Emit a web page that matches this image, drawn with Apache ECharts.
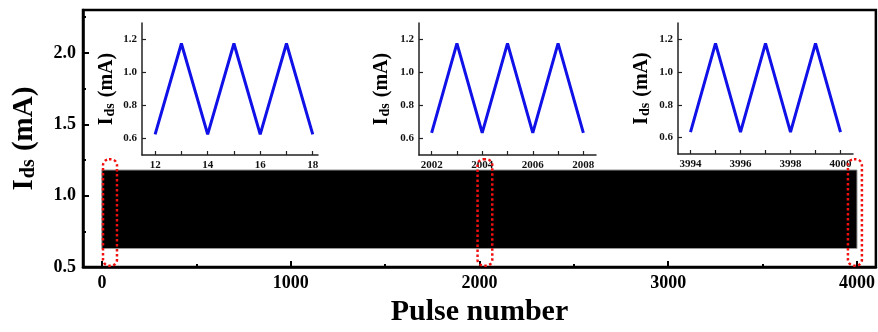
<!DOCTYPE html>
<html>
<head>
<meta charset="utf-8">
<script src="https://cdn.jsdelivr.net/npm/echarts@6/dist/echarts.min.js"></script>
<style>
  html, body { margin: 0; padding: 0; background: #fff; }
  #main { width: 878px; height: 332px; }
</style>
</head>
<body>
<div id="main"></div>
<script>
// main plot: the dense pulse train shows up as a solid band
var bandStart = [0];
var bandEnd = [4000];
var bandLow = [0.63];
var bandHigh = [1.18];

// red dotted boxes marking the zoomed regions
var boxStart = [6, 1990, 3952];
var boxEnd = [80, 2068, 4026];
var boxLow = [0.51, 0.51, 0.51];
var boxHigh = [1.255, 1.255, 1.255];

// insets
var inset1X = [12, 13, 14, 15, 16, 17, 18];
var inset1Y = [0.625, 1.176, 0.625, 1.176, 0.625, 1.176, 0.625];
var inset2X = [2002, 2003, 2004, 2005, 2006, 2007, 2008];
var inset2Y = [0.634, 1.176, 0.634, 1.176, 0.634, 1.176, 0.634];
var inset3X = [3994, 3995, 3996, 3997, 3998, 3999, 4000];
var inset3Y = [0.634, 1.176, 0.634, 1.176, 0.634, 1.176, 0.634];

var mainXLabels = [0, 1000, 2000, 3000, 4000];
var mainXMinor = [500, 1500, 2500, 3500];
var mainYLabels = [0.5, 1.0, 1.5, 2.0];
var mainYMinor = [0.75, 1.25, 1.75, 2.25];
var insetYLabels = [0.6, 0.8, 1.0, 1.2];

var serif = 'Liberation Serif';

function pairs(xs, ys) {
    var out = [];
    for (var i = 0; i < xs.length; i++) out.push([xs[i], ys[i]]);
    return out;
}

function plain(v) { return String(v); }
function oneDec(v) { return v.toFixed(1); }

function nameRich(size, subSize) {
    return {
        i: { fontSize: size, fontWeight: 'bold', fontFamily: serif, color: '#000' },
        s: { fontSize: subSize, fontWeight: 'bold', fontFamily: serif, color: '#000', verticalAlign: 'bottom', padding: [0, 1, 0, 1] }
    };
}

function insetX(grid, min, max, labels, ticks) {
    return {
        type: 'value', gridIndex: grid, min: min, max: max, position: 'bottom',
        axisLine: { show: true, onZero: false, lineStyle: { color: '#222', width: 1.5 } },
        axisTick: { show: true, inside: true, length: 4, customValues: ticks, lineStyle: { color: '#222', width: 1.2 } },
        axisLabel: { customValues: labels, margin: 5, fontFamily: serif, fontWeight: 'bold', fontSize: 11, color: '#111', formatter: plain },
        splitLine: { show: false }
    };
}

function insetY(grid, gap) {
    return {
        type: 'value', gridIndex: grid, min: 0.5, max: 1.3, position: 'left',
        name: '{i|I}{s|ds}{i| (mA)}', nameLocation: 'middle', nameGap: gap,
        nameTextStyle: { rich: nameRich(20, 14) },
        axisLine: { show: true, onZero: false, lineStyle: { color: '#222', width: 1.5 } },
        axisTick: { show: true, inside: true, length: 4, customValues: insetYLabels, lineStyle: { color: '#222', width: 1.2 } },
        axisLabel: { customValues: insetYLabels, margin: 5, fontFamily: serif, fontWeight: 'bold', fontSize: 11, color: '#111', formatter: oneDec },
        splitLine: { show: false }
    };
}

function insetLine(idx, xs, ys) {
    return {
        type: 'line', xAxisIndex: idx, yAxisIndex: idx, data: pairs(xs, ys),
        showSymbol: false, lineStyle: { color: '#1010e8', width: 3 }, z: 5
    };
}

var chart = echarts.init(document.getElementById('main'));

var option = {
    animation: false,
    backgroundColor: '#fff',
    grid: [
        { left: 83, right: 2, top: 10, bottom: 60, show: true, borderColor: '#000', borderWidth: 2.5 },
        { left: 142, top: 23, width: 176, height: 132 },
        { left: 419, top: 23, width: 177, height: 132 },
        { left: 678, top: 23, width: 175, height: 131 }
    ],
    xAxis: [
        {
            type: 'value', gridIndex: 0, min: -100, max: 4100, position: 'bottom',
            name: 'Pulse number', nameLocation: 'middle', nameGap: 24,
            nameTextStyle: { fontFamily: serif, fontWeight: 'bold', fontSize: 30, color: '#000' },
            axisLine: { show: true, onZero: false, lineStyle: { color: '#000', width: 2.5 } },
            axisTick: { show: true, inside: true, length: 6, customValues: mainXLabels, lineStyle: { color: '#000', width: 2 } },
            axisLabel: { customValues: mainXLabels, margin: 7, fontFamily: serif, fontWeight: 'bold', fontSize: 18, color: '#000', formatter: plain },
            splitLine: { show: false }
        },
        insetX(1, 11.5, 18.2, [12, 14, 16, 18], inset1X),
        insetX(2, 2001.5, 2008.5, [2002, 2004, 2006, 2008], inset2X),
        insetX(3, 3993.5, 4000.5, [3994, 3996, 3998, 4000], inset3X),
        {
            // minor ticks for the main x axis
            type: 'value', gridIndex: 0, min: -100, max: 4100, position: 'bottom',
            axisLine: { show: false, onZero: false },
            axisTick: { show: true, inside: true, length: 3, customValues: mainXMinor, lineStyle: { color: '#000', width: 2 } },
            axisLabel: { show: false },
            splitLine: { show: false }
        }
    ],
    yAxis: [
        {
            type: 'value', gridIndex: 0, min: 0.5, max: 2.3, position: 'left',
            name: '{i|I}{s|ds}{i| (mA)}', nameLocation: 'middle', nameGap: 44,
            nameTextStyle: { rich: nameRich(29, 20) },
            axisLine: { show: true, onZero: false, lineStyle: { color: '#000', width: 2.5 } },
            axisTick: { show: true, inside: true, length: 6, customValues: mainYLabels, lineStyle: { color: '#000', width: 2 } },
            axisLabel: { customValues: mainYLabels, margin: 7, fontFamily: serif, fontWeight: 'bold', fontSize: 18, color: '#000', formatter: oneDec },
            splitLine: { show: false }
        },
        insetY(1, 25),
        insetY(2, 27),
        insetY(3, 26),
        {
            // minor ticks for the main y axis
            type: 'value', gridIndex: 0, min: 0.5, max: 2.3, position: 'left',
            axisLine: { show: false, onZero: false },
            axisTick: { show: true, inside: true, length: 3, customValues: mainYMinor, lineStyle: { color: '#000', width: 2 } },
            axisLabel: { show: false },
            splitLine: { show: false }
        }
    ],
    series: [
        {
            type: 'custom', xAxisIndex: 0, yAxisIndex: 0, z: 2,
            encode: { x: [0, 1], y: [2, 3] },
            data: bandStart.map(function (s, i) { return [s, bandEnd[i], bandLow[i], bandHigh[i]]; }),
            renderItem: function (params, api) {
                var p0 = api.coord([api.value(0), api.value(3)]);
                var p1 = api.coord([api.value(1), api.value(2)]);
                return {
                    type: 'rect',
                    shape: { x: p0[0], y: p0[1], width: p1[0] - p0[0], height: p1[1] - p0[1] },
                    style: { fill: '#000', stroke: '#999', lineWidth: 1 }
                };
            }
        },
        {
            type: 'custom', xAxisIndex: 0, yAxisIndex: 0, z: 4,
            encode: { x: [0, 1], y: [2, 3] },
            data: boxStart.map(function (s, i) { return [s, boxEnd[i], boxLow[i], boxHigh[i]]; }),
            renderItem: function (params, api) {
                var p0 = api.coord([api.value(0), api.value(3)]);
                var p1 = api.coord([api.value(1), api.value(2)]);
                return {
                    type: 'rect',
                    shape: { x: p0[0], y: p0[1], width: p1[0] - p0[0], height: p1[1] - p0[1], r: 6 },
                    style: { fill: null, stroke: '#f01010', lineWidth: 2.5, lineDash: [2.5, 2.5] }
                };
            }
        },
        insetLine(1, inset1X, inset1Y),
        insetLine(2, inset2X, inset2Y),
        insetLine(3, inset3X, inset3Y)
    ]
};

option && chart.setOption(option);
</script>
</body>
</html>
